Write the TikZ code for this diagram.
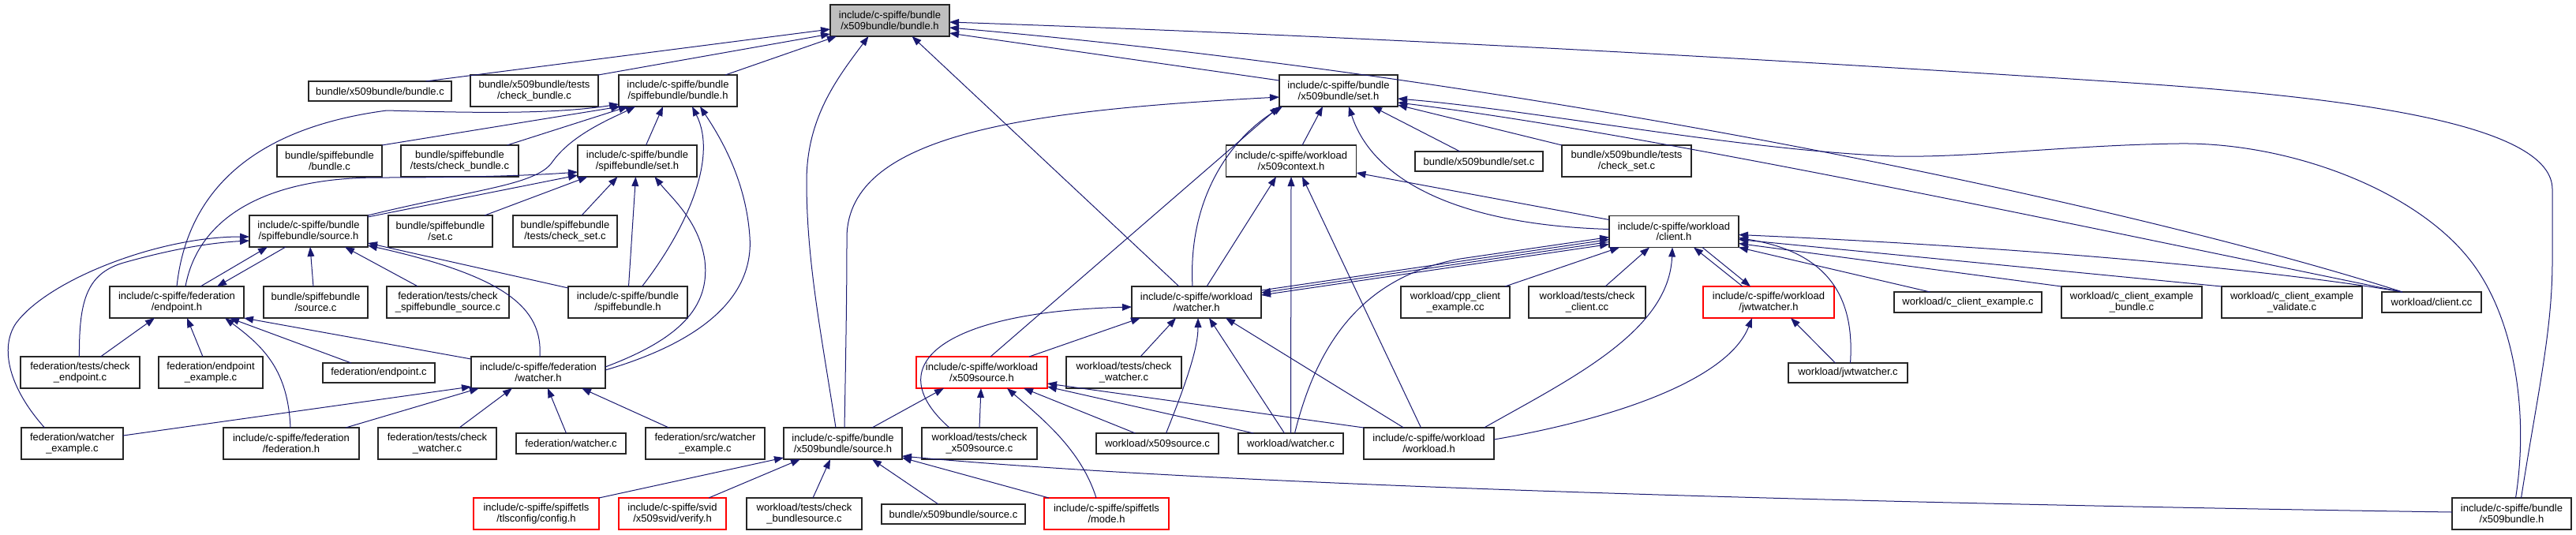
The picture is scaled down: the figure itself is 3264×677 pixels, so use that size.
\documentclass[tikz,border=0pt]{standalone}
\usepackage{fontspec}
\setmainfont{Liberation Sans}
\usetikzlibrary{arrows.meta,calc}
\definecolor{edgeblue}{RGB}{25,25,112}
\definecolor{rootgrey}{RGB}{191,191,191}
\begin{document}
\begin{tikzpicture}[x=0.5pt,y=-0.5pt,
  nb/.style={draw=black!85, line width=0.8pt, fill=white, rectangle, inner sep=0pt, outer sep=0pt, align=center, font=\fontsize{6.5pt}{6.8pt}\selectfont},
  redb/.style={nb, draw=red},
  wd/.style={minimum width=#1*0.5pt},
  ht/.style={minimum height=#1*0.5pt},
  dep/.style={draw=edgeblue, line width=0.5pt, -{Triangle[length=6pt,width=4.4pt]}},
  depboth/.style={draw=edgeblue, line width=0.5pt, {Triangle[length=6pt,width=4.4pt]}-{Triangle[length=6pt,width=4.4pt]}}]
\useasboundingbox (0,0) rectangle (3264,677);
% row 0
\node[nb, fill=rootgrey, wd=151, ht=40] (root) at (1127.5,26) {include/c-spiffe/bundle\\/x509bundle/bundle.h};
% row 1
\node[nb, wd=181, ht=25] (x5bc) at (481.5,115.5) {bundle/x509bundle/bundle.c};
\node[nb, wd=162, ht=40] (x5cb) at (677,115) {bundle/x509bundle/tests\\/check\_bundle.c};
\node[nb, wd=150, ht=40] (sb_bundle_h) at (859,115) {include/c-spiffe/bundle\\/spiffebundle/bundle.h};
\node[nb, wd=150, ht=40] (x5_set_h) at (1696,115) {include/c-spiffe/bundle\\/x509bundle/set.h};
% row 2
\node[nb, wd=133, ht=40] (sb_bundle_c) at (417.5,204) {bundle/spiffebundle\\/bundle.c};
\node[nb, wd=149, ht=40] (sb_check_bundle) at (582.5,204) {bundle/spiffebundle\\/tests/check\_bundle.c};
\node[nb, wd=151, ht=40] (sb_set_h) at (807.5,204) {include/c-spiffe/bundle\\/spiffebundle/set.h};
\node[nb, wd=165, ht=40] (x509context_h) at (1636,204) {include/c-spiffe/workload\\/x509context.h};
\node[nb, wd=162, ht=25] (x5_set_c) at (1874,204.5) {bundle/x509bundle/set.c};
\node[nb, wd=164, ht=40] (x5_check_set) at (2061,204) {bundle/x509bundle/tests\\/check\_set.c};
% row 3
\node[nb, wd=150, ht=40] (sb_source_h) at (391,293) {include/c-spiffe/bundle\\/spiffebundle/source.h};
\node[nb, wd=132, ht=40] (sb_set_c) at (558,293) {bundle/spiffebundle\\/set.c};
\node[nb, wd=132, ht=40] (sb_check_set) at (716,293) {bundle/spiffebundle\\/tests/check\_set.c};
\node[nb, wd=164, ht=40] (client_h) at (2121,293.5) {include/c-spiffe/workload\\/client.h};
% row 4
\node[nb, wd=170, ht=40] (endpoint_h) at (224,383) {include/c-spiffe/federation\\/endpoint.h};
\node[nb, wd=132, ht=40] (sb_source_c) at (400,383) {bundle/spiffebundle\\/source.c};
\node[nb, wd=155, ht=40] (fed_check_sbsource) at (567.5,383) {federation/tests/check\\\_spiffebundle\_source.c};
\node[nb, wd=151, ht=40] (spiffebundle_h) at (795.5,383) {include/c-spiffe/bundle\\/spiffebundle.h};
\node[nb, wd=164, ht=40] (wl_watcher_h) at (1516,383) {include/c-spiffe/workload\\/watcher.h};
\node[nb, wd=138, ht=40] (cpp_client) at (1844,383) {workload/cpp\_client\\\_example.cc};
\node[nb, wd=148, ht=40] (check_client_cc) at (2011,383) {workload/tests/check\\\_client.cc};
\node[redb, wd=166, ht=40] (jwtwatcher_h) at (2241,383) {include/c-spiffe/workload\\/jwtwatcher.h};
\node[nb, wd=187, ht=26] (c_client_ex) at (2493.5,383) {workload/c\_client\_example.c};
\node[nb, wd=178, ht=40] (c_client_ex_bundle) at (2701,383) {workload/c\_client\_example\\\_bundle.c};
\node[nb, wd=178, ht=40] (c_client_ex_validate) at (2904,383) {workload/c\_client\_example\\\_validate.c};
\node[nb, wd=126, ht=26] (client_cc) at (3081,383) {workload/client.cc};
% row 5
\node[nb, wd=151, ht=40] (fed_check_endpoint) at (101.5,472) {federation/tests/check\\\_endpoint.c};
\node[nb, wd=132, ht=40] (endpoint_example) at (267,472) {federation/endpoint\\\_example.c};
\node[nb, wd=142, ht=25] (endpoint_c) at (480,472.5) {federation/endpoint.c};
\node[nb, wd=170, ht=40] (fed_watcher_h) at (682,472) {include/c-spiffe/federation\\/watcher.h};
\node[redb, wd=166, ht=40] (x509source_h) at (1244,472) {include/c-spiffe/workload\\/x509source.h};
\node[nb, wd=146, ht=40] (wl_check_watcher) at (1424,472) {workload/tests/check\\\_watcher.c};
\node[nb, wd=151, ht=25] (jwtwatcher_c) at (2341.5,472.5) {workload/jwtwatcher.c};
% row 6
\node[nb, wd=129, ht=40] (fed_watcher_example) at (91.5,562) {federation/watcher\\\_example.c};
\node[nb, wd=172, ht=40] (federation_h) at (369,562) {include/c-spiffe/federation\\/federation.h};
\node[nb, wd=150, ht=40] (fed_check_watcher) at (554,562) {federation/tests/check\\\_watcher.c};
\node[nb, wd=139, ht=26] (fed_watcher_c) at (723.5,562) {federation/watcher.c};
\node[nb, wd=151, ht=40] (fed_src_watcher_example) at (893.5,562) {federation/src/watcher\\\_example.c};
\node[nb, wd=150, ht=40] (x5_source_h) at (1068,562) {include/c-spiffe/bundle\\/x509bundle/source.h};
\node[nb, wd=146, ht=40] (wl_check_x509source) at (1241,562) {workload/tests/check\\\_x509source.c};
\node[nb, wd=155, ht=26] (wl_x509source_c) at (1466.5,562) {workload/x509source.c};
\node[nb, wd=133, ht=26] (wl_watcher_c) at (1635.5,562) {workload/watcher.c};
\node[nb, wd=165, ht=40] (workload_h) at (1810.5,562) {include/c-spiffe/workload\\/workload.h};
% row 7
\node[redb, wd=159, ht=40] (config_h) at (679.5,651) {include/c-spiffe/spiffetls\\/tlsconfig/config.h};
\node[redb, wd=136, ht=40] (verify_h) at (852,651) {include/c-spiffe/svid\\/x509svid/verify.h};
\node[nb, wd=146, ht=40] (check_bundlesource) at (1019,651) {workload/tests/check\\\_bundlesource.c};
\node[nb, wd=182, ht=25] (x5_source_c) at (1208,651.5) {bundle/x509bundle/source.c};
\node[redb, wd=158, ht=40] (mode_h) at (1402,651) {include/c-spiffe/spiffetls\\/mode.h};
\node[nb, wd=151, ht=40] (x509bundle_h) at (3182.5,651) {include/c-spiffe/bundle\\/x509bundle.h};

% edges to root
\draw[dep] ($(x5bc.north)+(58,0)$) -- ($(root.west)+(0,11)$);
\draw[dep] (x5cb.north east) -- ($(root.west)+(0,17)$);
\draw[dep] ($(sb_bundle_h.north)+(60,0)$) -- ($(root.south west)+(8,0)$);
\draw[dep] ($(x5_source_h.north)+(-9,0)$) .. controls (1040,420) and (1022,330) .. (1022,230) .. controls (1022,150) and (1060,100) .. ($(root.south)+(-27,0)$);
\draw[dep] ($(x5_set_h.west)+(0,-13)$) -- ($(root.east)+(0,16)$);
\draw[dep] ($(client_cc.north)+(-37,0)$) .. controls (2700,260) and (1950,100) .. ($(root.east)+(0,9)$);
\draw[dep] ($(x509bundle_h.north)+(12,0)$) .. controls (3215,500) and (3234,420) .. (3234,330) -- (3234,240) .. controls (3234,160) and (3000,125) .. (2700,105) .. controls (2200,72) and (1700,45) .. ($(root.east)+(0,2)$);
\draw[dep] ($(wl_watcher_h.north)+(-22,0)$) -- ($(root.south)+(28,0)$);
% edges to x509bundle/set.h
\draw[dep] ($(x509context_h.north)+(14,0)$) -- ($(x5_set_h.south)+(-20,0)$);
\draw[dep] ($(x5_set_c.north)+(-24,0)$) -- ($(x5_set_h.south)+(43,0)$);
\draw[dep] (x5_check_set.north west) -- ($(x5_set_h.east)+(0,18)$);
\draw[dep] ($(client_h.west)+(0,-3)$) .. controls (1850,285) and (1740,230) .. ($(x5_set_h.south)+(13,0)$);
\draw[dep] ($(client_cc.north)+(-37,0)$) .. controls (2700,300) and (2100,170) .. ($(x5_set_h.east)+(0,15)$);
\draw[dep] ($(x509bundle_h.north)+(5,0)$) .. controls (3205,520) and (3185,400) .. (3130,330) .. controls (3060,240) and (2900,180) .. (2760,182) .. controls (2620,184) and (2500,200) .. (2400,198) .. controls (2200,190) and (1950,140) .. ($(x5_set_h.east)+(0,10)$);
\draw[dep] ($(x5_source_h.north)+(2,0)$) .. controls (1072,430) and (1073,370) .. (1073,300) .. controls (1075,170) and (1300,140) .. ($(x5_set_h.west)+(0,8)$);
\draw[dep] ($(x509source_h.north)+(11,0)$) -- (x5_set_h.south west);
\draw[dep] ($(wl_watcher_h.north)+(-5,0)$) .. controls (1505,250) and (1560,175) .. ($(x5_set_h.south west)+(4,0)$);
% edges to x509context.h
\draw[dep] ($(wl_watcher_h.north)+(13,0)$) -- ($(x509context_h.south)+(-19,0)$);
\draw[dep] (wl_watcher_c.north) -- (x509context_h.south);
\draw[dep] ($(workload_h.north)+(-10,0)$) -- ($(x509context_h.south)+(14,0)$);
\draw[dep] ($(client_h.north west)+(0,5)$) -- ($(x509context_h.east)+(0,15)$);
% edges around client.h
\draw[dep] ($(wl_watcher_h.north east)+(0,5)$) -- ($(client_h.west)+(0,10)$);
\draw[dep] ($(client_h.west)+(0,13)$) -- ($(wl_watcher_h.north east)+(0,8)$);
\draw[depboth] ($(wl_watcher_h.north east)+(0,11)$) -- ($(client_h.west)+(0,16)$);
\draw[dep] ($(wl_watcher_c.north)+(5,0)$) .. controls (1670,430) and (1730,350) .. (1850,328) -- ($(client_h.west)+(0,7)$);
\draw[dep] ($(cpp_client.north east)+(-6,0)$) -- ($(client_h.south)+(-69,0)$);
\draw[dep] ($(check_client_cc.north)+(23,0)$) -- ($(client_h.south)+(-31,0)$);
\draw[dep] ($(workload_h.north)+(70,0)$) .. controls (1990,480) and (2115,420) .. ($(client_h.south)+(-2,0)$);
\draw[dep] ($(jwtwatcher_h.north)+(-33,0)$) -- ($(client_h.south)+(25,0)$);
\draw[dep] ($(client_h.south)+(36,0)$) -- ($(jwtwatcher_h.north)+(-23,0)$);
\draw[dep] ($(jwtwatcher_c.north)+(3,0)$) .. controls (2350,380) and (2320,320) .. ($(client_h.east)+(0,8)$);
\draw[dep] ($(c_client_ex.north)+(-48,0)$) -- (client_h.south east);
\draw[dep] (c_client_ex_bundle.north west) -- ($(client_h.east)+(0,15)$);
\draw[dep] (c_client_ex_validate.north west) -- ($(client_h.east)+(0,10)$);
\draw[dep] ($(client_cc.north)+(-37,0)$) .. controls (2900,345) and (2600,315) .. ($(client_h.east)+(0,4)$);
% jwtwatcher.h
\draw[dep] ($(jwtwatcher_c.north)+(-16,0)$) -- ($(jwtwatcher_h.south)+(28,0)$);
\draw[dep] ($(workload_h.east)+(0,-5)$) .. controls (2050,530) and (2190,480) .. ($(jwtwatcher_h.south)+(-21,0)$);
% workload watcher.h
\draw[dep] ($(x509source_h.north)+(60,0)$) -- ($(wl_watcher_h.south)+(-71,0)$);
\draw[dep] ($(wl_check_watcher.north)+(21,0)$) -- ($(wl_watcher_h.south)+(-26,0)$);
\draw[dep] ($(wl_x509source_c.north)+(11,0)$) .. controls (1505,480) and (1518,440) .. ($(wl_watcher_h.south)+(2,0)$);
\draw[dep] ($(wl_watcher_c.north)+(-8,0)$) -- ($(wl_watcher_h.south)+(16,0)$);
\draw[dep] ($(workload_h.north)+(-32,0)$) -- ($(wl_watcher_h.south)+(37,0)$);
\draw[dep] ($(wl_check_x509source.north)+(-38,0)$) .. controls (1110,460) and (1200,395) .. ($(wl_watcher_h.west)+(0,6)$);
% workload x509source.h
\draw[dep] ($(x5_source_h.north)+(37,0)$) -- ($(x509source_h.south)+(-48,0)$);
\draw[dep] (wl_check_x509source.north) -- ($(x509source_h.south)+(-1,0)$);
\draw[dep] ($(mode_h.north)+(-13,0)$) .. controls (1370,570) and (1320,530) .. ($(x509source_h.south)+(32,0)$);
\draw[dep] ($(wl_x509source_c.north)+(-28,0)$) -- ($(x509source_h.south)+(53,0)$);
\draw[dep] ($(wl_watcher_c.north)+(-47,0)$) -- ($(x509source_h.east)+(0,18)$);
\draw[dep] (workload_h.north west) -- ($(x509source_h.east)+(0,14)$);
% x509bundle/source.h
\draw[dep] (config_h.north east) -- ($(x5_source_h.south west)+(0,-2)$);
\draw[dep] ($(verify_h.north)+(46,0)$) -- ($(x5_source_h.south)+(-54,0)$);
\draw[dep] ($(check_bundlesource.north)+(11,0)$) -- ($(x5_source_h.south)+(-16,0)$);
\draw[dep] ($(x5_source_c.north)+(-19,0)$) -- ($(x5_source_h.south)+(37,0)$);
\draw[dep] ($(mode_h.north)+(-73,0)$) -- ($(x5_source_h.south east)+(0,-2)$);
\draw[dep] ($(x509bundle_h.west)+(0,-2)$) .. controls (2500,640) and (1600,620) .. ($(x5_source_h.east)+(0,16)$);
% spiffebundle/bundle.h
\draw[dep] (sb_bundle_c.north east) -- ($(sb_bundle_h.south west)+(2,0)$);
\draw[dep] ($(sb_check_bundle.north)+(60,0)$) -- ($(sb_bundle_h.south)+(-63,0)$);
\draw[dep] ($(sb_set_h.north)+(11,0)$) -- ($(sb_bundle_h.south)+(-19,0)$);
\draw[dep] (sb_source_h.north east) .. controls (600,240) and (680,235) .. (700,205) .. controls (725,170) and (775,150) .. ($(sb_bundle_h.south)+(-54,0)$);
\draw[dep] ($(spiffebundle_h.north)+(18,0)$) .. controls (870,290) and (910,200) .. ($(sb_bundle_h.south)+(18,0)$);
\draw[dep] ($(fed_watcher_h.east)+(0,-3)$) .. controls (900,430) and (955,370) .. (950,300) .. controls (945,225) and (910,170) .. ($(sb_bundle_h.south)+(28,0)$);
\draw[dep] (endpoint_h.north) .. controls (235,260) and (300,165) .. (490,140) .. controls (600,143) and (700,145) .. ($(sb_bundle_h.west)+(0,17)$);
% spiffebundle/set.h
\draw[dep] ($(fed_watcher_h.east)+(0,-7)$) .. controls (860,430) and (900,390) .. (893,330) .. controls (886,280) and (850,250) .. ($(sb_set_h.south)+(22,0)$);
\draw[dep] ($(spiffebundle_h.north)+(1,0)$) -- ($(sb_set_h.south)+(-2,0)$);
\draw[dep] ($(sb_check_set.north)+(21,0)$) -- ($(sb_set_h.south)+(-25,0)$);
\draw[dep] ($(sb_set_c.north)+(56,0)$) -- ($(sb_set_h.south)+(-63,0)$);
\draw[dep] ($(sb_source_h.east)+(0,-18)$) -- ($(sb_set_h.west)+(0,18)$);
\draw[dep] ($(endpoint_h.north)+(11,0)$) .. controls (250,280) and (330,225) .. (480,225) .. controls (600,225) and (680,222) .. ($(sb_set_h.west)+(0,14)$);
% spiffebundle/source.h
\draw[dep] ($(fed_check_endpoint.north)+(-1,0)$) .. controls (100,380) and (110,345) .. (160,332) .. controls (210,318) and (260,308) .. ($(sb_source_h.west)+(0,12)$);
\draw[dep] ($(fed_watcher_example.north)+(-35,0)$) .. controls (10,490) and (0,440) .. (20,410) .. controls (60,355) and (200,300) .. ($(sb_source_h.west)+(0,7)$);
\draw[dep] ($(endpoint_h.north)+(30,0)$) -- ($(sb_source_h.south)+(-52,0)$);
\draw[dep] ($(sb_source_h.south)+(-29,0)$) -- ($(endpoint_h.north)+(51,0)$);
\draw[dep] ($(sb_source_c.north)+(-3,0)$) -- ($(sb_source_h.south)+(2,0)$);
\draw[dep] ($(fed_check_sbsource.north)+(-38,0)$) -- ($(sb_source_h.south)+(46,0)$);
\draw[dep] ($(fed_watcher_h.north)+(2,0)$) .. controls (688,390) and (640,350) .. ($(sb_source_h.south east)+(0,-2)$);
\draw[dep] ($(spiffebundle_h.north west)+(0,2)$) -- ($(sb_source_h.south east)+(0,-5)$);
% federation/endpoint.h
\draw[dep] ($(fed_check_endpoint.north)+(26,0)$) -- ($(endpoint_h.south)+(-28,0)$);
\draw[dep] ($(endpoint_example.north)+(-10,0)$) -- ($(endpoint_h.south)+(13,0)$);
\draw[dep] ($(endpoint_c.north)+(-35,0)$) -- ($(endpoint_h.south)+(67,0)$);
\draw[dep] ($(federation_h.north)+(-1,0)$) .. controls (365,470) and (335,440) .. ($(endpoint_h.south)+(61,0)$);
\draw[dep] ($(fed_watcher_h.north west)+(0,3)$) -- (endpoint_h.south east);
% federation/watcher.h
\draw[dep] ($(fed_watcher_example.east)+(0,-10)$) -- ($(fed_watcher_h.south west)+(0,-2)$);
\draw[dep] ($(federation_h.north)+(69,0)$) -- ($(fed_watcher_h.south)+(-75,0)$);
\draw[dep] ($(fed_check_watcher.north)+(28,0)$) -- ($(fed_watcher_h.south)+(-33,0)$);
\draw[dep] ($(fed_watcher_c.north)+(-6,0)$) -- ($(fed_watcher_h.south)+(12,0)$);
\draw[dep] ($(fed_src_watcher_example.north)+(-46,0)$) -- ($(fed_watcher_h.south)+(55,0)$);
\end{tikzpicture}
\end{document}
